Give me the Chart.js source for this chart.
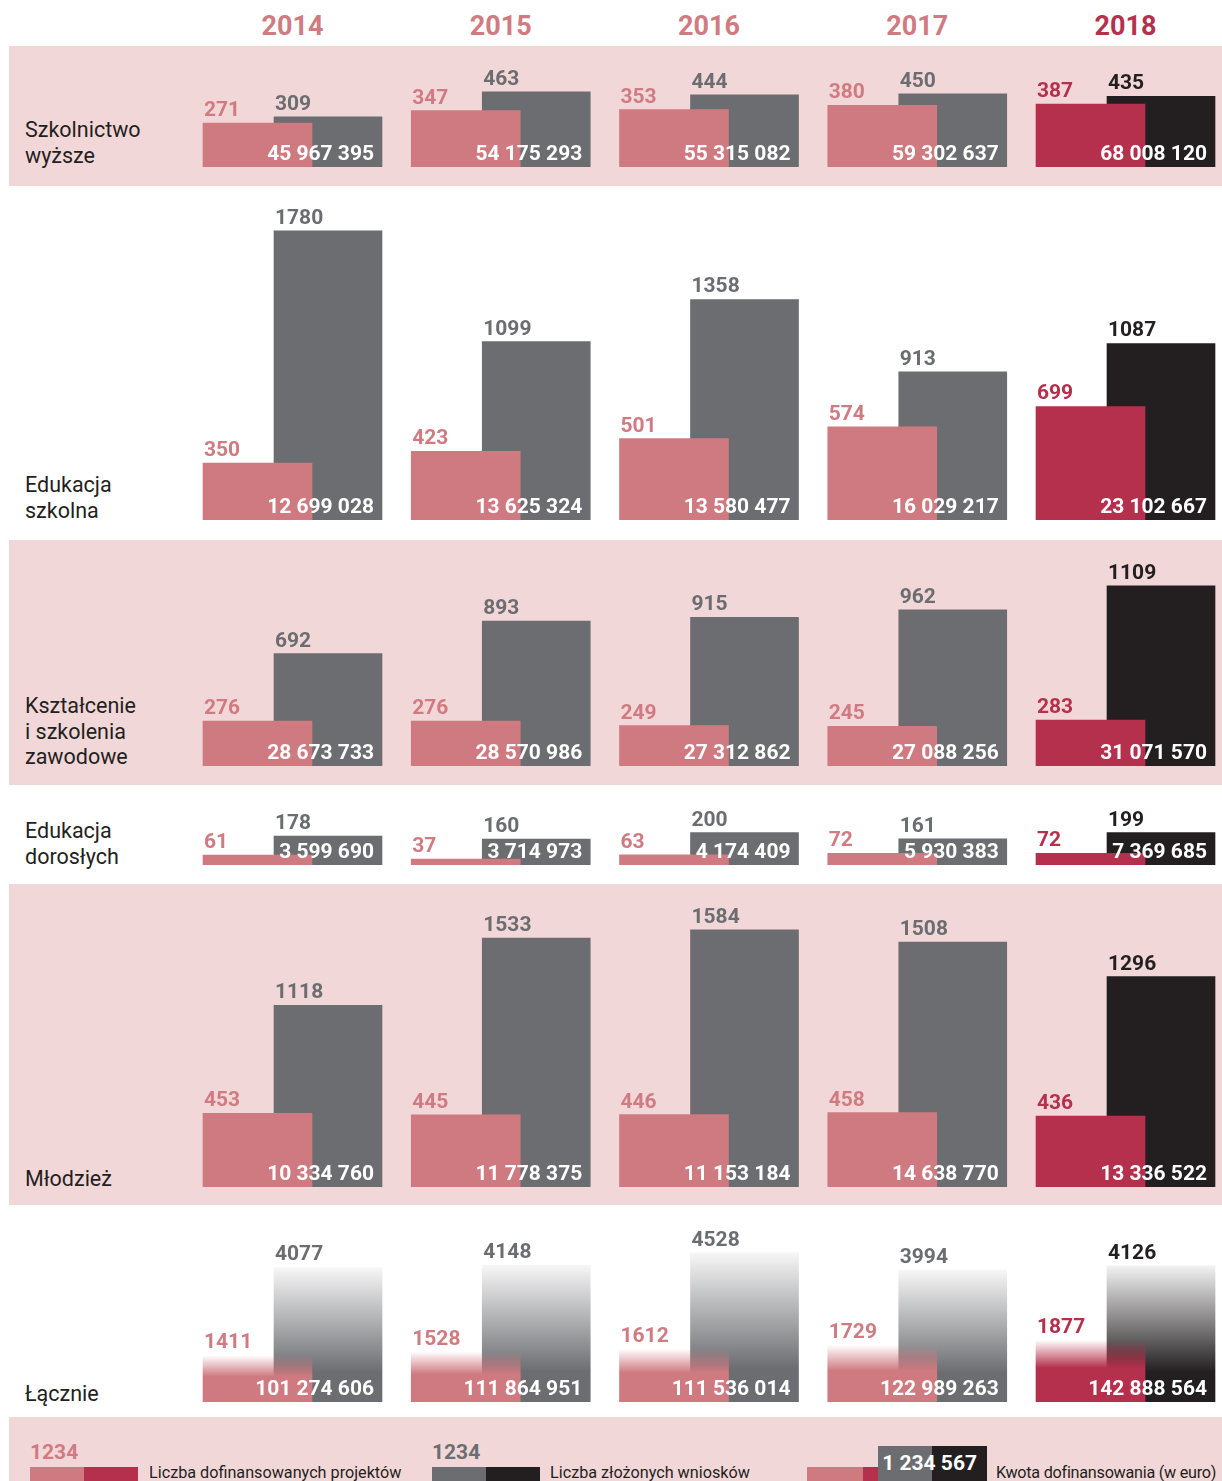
<!DOCTYPE html>
<html lang="pl">
<head>
<meta charset="utf-8">
<script src="https://cdn.jsdelivr.net/npm/chart.js@4/dist/chart.umd.min.js"></script>
<style>
  html,body{margin:0;padding:0;}
  body{width:1222px;height:1481px;position:relative;overflow:hidden;background:#fff;font-family:Roboto,"Noto Sans",sans-serif;}
  .band{position:absolute;left:9px;right:0;background:#f2d7d9;}
  .rowlabel{position:absolute;left:25px;font-size:21.5px;line-height:26px;color:#231f20;white-space:pre;}
  .year{position:absolute;top:10px;width:200px;margin-left:-100px;text-align:center;font-weight:700;font-size:27px;line-height:32px;color:#d07b81;}
  .year.last{color:#b5304c;}
  canvas{position:absolute;left:0;}
  .lg{position:absolute;}
  .lgnum{position:absolute;font-weight:700;font-size:21px;line-height:26px;}
  .lgtext{position:absolute;font-size:16.2px;line-height:20px;color:#231f20;white-space:nowrap;}
</style>
</head>
<body>
<script>
// ---------------- DATA ----------------
const years = ['2014', '2015', '2016', '2017', '2018'];
const rowLabels = ['Szkolnictwo\nwyższe', 'Edukacja\nszkolna', 'Kształcenie\ni szkolenia\nzawodowe', 'Edukacja\ndorosłych', 'Młodzież', 'Łącznie'];

const szkolnictwoProjects     = [271, 347, 353, 380, 387];
const szkolnictwoApplications = [309, 463, 444, 450, 435];
const szkolnictwoAmounts      = [45967395, 54175293, 55315082, 59302637, 68008120];

const szkolnaProjects     = [350, 423, 501, 574, 699];
const szkolnaApplications = [1780, 1099, 1358, 913, 1087];
const szkolnaAmounts      = [12699028, 13625324, 13580477, 16029217, 23102667];

const zawodoweProjects     = [276, 276, 249, 245, 283];
const zawodoweApplications = [692, 893, 915, 962, 1109];
const zawodoweAmounts      = [28673733, 28570986, 27312862, 27088256, 31071570];

const doroslychProjects     = [61, 37, 63, 72, 72];
const doroslychApplications = [178, 160, 200, 161, 199];
const doroslychAmounts      = [3599690, 3714973, 4174409, 5930383, 7369685];

const mlodziezProjects     = [453, 445, 446, 458, 436];
const mlodziezApplications = [1118, 1533, 1584, 1508, 1296];
const mlodziezAmounts      = [10334760, 11778375, 11153184, 14638770, 13336522];

const lacznieProjects     = [1411, 1528, 1612, 1729, 1877];
const lacznieApplications = [4077, 4148, 4528, 3994, 4126];
const lacznieAmounts      = [101274606, 111864951, 111536014, 122989263, 142888564];

const legendLabels = ['Liczba dofinansowanych projektów', 'Liczba złożonych wniosków', 'Kwota dofinansowania (w euro)'];
const legendSample = ['1234', '1234', '1 234 567'];

// ---------------- STYLE / LAYOUT ----------------
const PINK = '207,122,128', CRIMSON = '181,48,76', GRAY = '108,109,113', BLACK = '35,31,32';
const PINK_TXT = '#d07b81', CRIMSON_TXT = '#b5304c', GRAY_TXT = '#6c6d71', BLACK_TXT = '#231f20';
const PAGE_W = 1222;
const COL_START = 203, COL_STEP = 208.25, PINK_W = 109, GRAY_W = 108, GRAY_SHIFT = 71;
const PINK_CENTER = COL_START + PINK_W / 2;
const GRAY_OFFSET = (GRAY_SHIFT + GRAY_W / 2 - PINK_W / 2) / COL_STEP;
const X_MIN = -PINK_CENTER / COL_STEP, X_MAX = X_MIN + PAGE_W / COL_STEP;
const NUM_FONT = '700 21px Roboto';

const rows = [
  {p: szkolnictwoProjects, a: szkolnictwoApplications, m: szkolnictwoAmounts, top: 46,  base: 167,  ppu: 0.1624, band: [46, 186],  lab: 117,  grad: false},
  {p: szkolnaProjects,     a: szkolnaApplications,     m: szkolnaAmounts,     top: 186, base: 520,  ppu: 0.1624, band: null,      lab: 472,  grad: false},
  {p: zawodoweProjects,    a: zawodoweApplications,    m: zawodoweAmounts,    top: 540, base: 766,  ppu: 0.1624, band: [540, 785], lab: 693,  grad: false},
  {p: doroslychProjects,   a: doroslychApplications,   m: doroslychAmounts,   top: 785, base: 865,  ppu: 0.1624, band: null,      lab: 818,  grad: false},
  {p: mlodziezProjects,    a: mlodziezApplications,    m: mlodziezAmounts,    top: 884, base: 1187, ppu: 0.1624, band: [884, 1205], lab: 1166, grad: false},
  {p: lacznieProjects,     a: lacznieApplications,     m: lacznieAmounts,     top: 1205, base: 1402, ppu: 0.0330, band: null,     lab: 1381, grad: true}
];

const fmt = n => String(n).replace(/\B(?=(\d{3})+(?!\d))/g, ' ');

function el(tag, cls, css, text) {
  const e = document.createElement(tag);
  if (cls) e.className = cls;
  Object.assign(e.style, css || {});
  if (text != null) e.textContent = text;
  document.body.appendChild(e);
  return e;
}

// bands
rows.forEach(r => { if (r.band) el('div', 'band', {top: r.band[0] + 'px', height: (r.band[1] - r.band[0]) + 'px'}); });
el('div', 'band', {top: '1417px', height: '64px'});

// year headers
years.forEach((y, i) => {
  el('div', 'year' + (i === years.length - 1 ? ' last' : ''), {left: (COL_START + i * COL_STEP + (GRAY_SHIFT + GRAY_W) / 2) + 'px'}, y);
});

// row labels
rows.forEach((r, i) => el('div', 'rowlabel', {top: r.lab + 'px', lineHeight: i === 2 ? '25.5px' : '26px'}, rowLabels[i]));

function gradient(rgb, startAlpha, solidStop) {
  return c => {
    const chart = c.chart, ys = chart.scales && chart.scales.y;
    const v = c.raw && c.raw.y;
    if (!ys || c.type !== 'data' || v == null) return `rgb(${rgb})`;
    const top = ys.getPixelForValue(v), bot = ys.getPixelForValue(0);
    if (!isFinite(top) || !isFinite(bot) || top === bot) return `rgb(${rgb})`;
    const g = chart.ctx.createLinearGradient(0, top, 0, bot);
    g.addColorStop(0, `rgba(${rgb},${startAlpha})`);
    g.addColorStop(solidStop, `rgba(${rgb},1)`);
    g.addColorStop(1, `rgba(${rgb},1)`);
    return g;
  };
}

const valueLabels = {
  id: 'valueLabels',
  afterDatasetsDraw(chart, args, opts) {
    const ctx = chart.ctx;
    const pm = chart.getDatasetMeta(0), gm = chart.getDatasetMeta(1);
    const last = pm.data.length - 1;
    ctx.save();
    ctx.font = NUM_FONT;
    ctx.textBaseline = 'alphabetic';
    pm.data.forEach((pb, i) => {
      const gb = gm.data[i];
      ctx.textAlign = 'left';
      ctx.fillStyle = i === last ? CRIMSON_TXT : PINK_TXT;
      ctx.fillText(String(chart.data.datasets[0].data[i].y), pb.x - pb.width / 2 + 1, pb.y - 7);
      ctx.fillStyle = i === last ? BLACK_TXT : GRAY_TXT;
      ctx.fillText(String(chart.data.datasets[1].data[i].y), gb.x - gb.width / 2 + 1, gb.y - 7);
      ctx.textAlign = 'right';
      ctx.fillStyle = '#ffffff';
      ctx.fillText(fmt(opts.amounts[i]), gb.x + gb.width / 2 - 8, gb.base - 7);
    });
    ctx.restore();
  }
};

rows.forEach(r => {
  const H = r.base - r.top;
  const cv = document.createElement('canvas');
  cv.width = PAGE_W; cv.height = H;
  cv.style.top = r.top + 'px';
  cv.style.width = PAGE_W + 'px'; cv.style.height = H + 'px';
  document.body.appendChild(cv);
  const last = years.length - 1;
  const pinkColors = years.map((_, i) => r.grad
      ? gradient(i === last ? CRIMSON : PINK, 0, 0.45)
      : `rgb(${i === last ? CRIMSON : PINK})`);
  const grayColors = years.map((_, i) => r.grad
      ? gradient(i === last ? BLACK : GRAY, 0.06, 0.78)
      : `rgb(${i === last ? BLACK : GRAY})`);
  new Chart(cv, {
    type: 'bar',
    data: {
      datasets: [
        {label: 'projekty', data: r.p.map((v, i) => ({x: i, y: v})), barThickness: PINK_W, grouped: false, order: 0,
         backgroundColor: c => { const f = pinkColors[c.dataIndex]; return typeof f === 'function' ? f(c) : f; }, borderWidth: 0},
        {label: 'wnioski', data: r.a.map((v, i) => ({x: i + GRAY_OFFSET, y: v})), barThickness: GRAY_W, grouped: false, order: 1,
         backgroundColor: c => { const f = grayColors[c.dataIndex]; return typeof f === 'function' ? f(c) : f; }, borderWidth: 0}
      ]
    },
    options: {
      responsive: false, animation: false, devicePixelRatio: 1,
      layout: {padding: 0},
      events: [],
      plugins: {legend: {display: false}, tooltip: {enabled: false}, valueLabels: {amounts: r.m}},
      scales: {
        x: {type: 'linear', display: false, offset: false, min: X_MIN, max: X_MAX, bounds: 'data', grid: {display: false, offset: false}},
        y: {type: 'linear', display: false, min: 0, max: H / r.ppu, grid: {display: false}}
      }
    },
    plugins: [valueLabels]
  });
});

// legend
el('div', 'lgnum', {left: '30px', top: '1439px', color: PINK_TXT}, legendSample[0]);
el('div', 'lg', {left: '30px', top: '1467px', width: '54px', height: '14px', background: `rgb(${PINK})`});
el('div', 'lg', {left: '84px', top: '1467px', width: '54px', height: '14px', background: `rgb(${CRIMSON})`});
el('div', 'lgtext', {left: '149px', top: '1463px'}, legendLabels[0]);

el('div', 'lgnum', {left: '432px', top: '1439px', color: GRAY_TXT}, legendSample[1]);
el('div', 'lg', {left: '432px', top: '1467px', width: '54px', height: '14px', background: `rgb(${GRAY})`});
el('div', 'lg', {left: '486px', top: '1467px', width: '54px', height: '14px', background: `rgb(${BLACK})`});
el('div', 'lgtext', {left: '550px', top: '1463px'}, legendLabels[1]);

el('div', 'lg', {left: '807px', top: '1467px', width: '56px', height: '14px', background: `rgb(${PINK})`});
el('div', 'lg', {left: '863px', top: '1467px', width: '54px', height: '14px', background: `rgb(${CRIMSON})`});
el('div', 'lg', {left: '878px', top: '1446px', width: '54px', height: '35px', background: `rgb(${GRAY})`});
el('div', 'lg', {left: '932px', top: '1446px', width: '55px', height: '35px', background: `rgb(${BLACK})`});
el('div', 'lgnum', {left: '877px', width: '100px', textAlign: 'right', top: '1450px', color: '#fff'}, legendSample[2]);
el('div', 'lgtext', {left: '996px', top: '1463px', letterSpacing: '-0.25px'}, legendLabels[2]);
</script>
</body>
</html>
